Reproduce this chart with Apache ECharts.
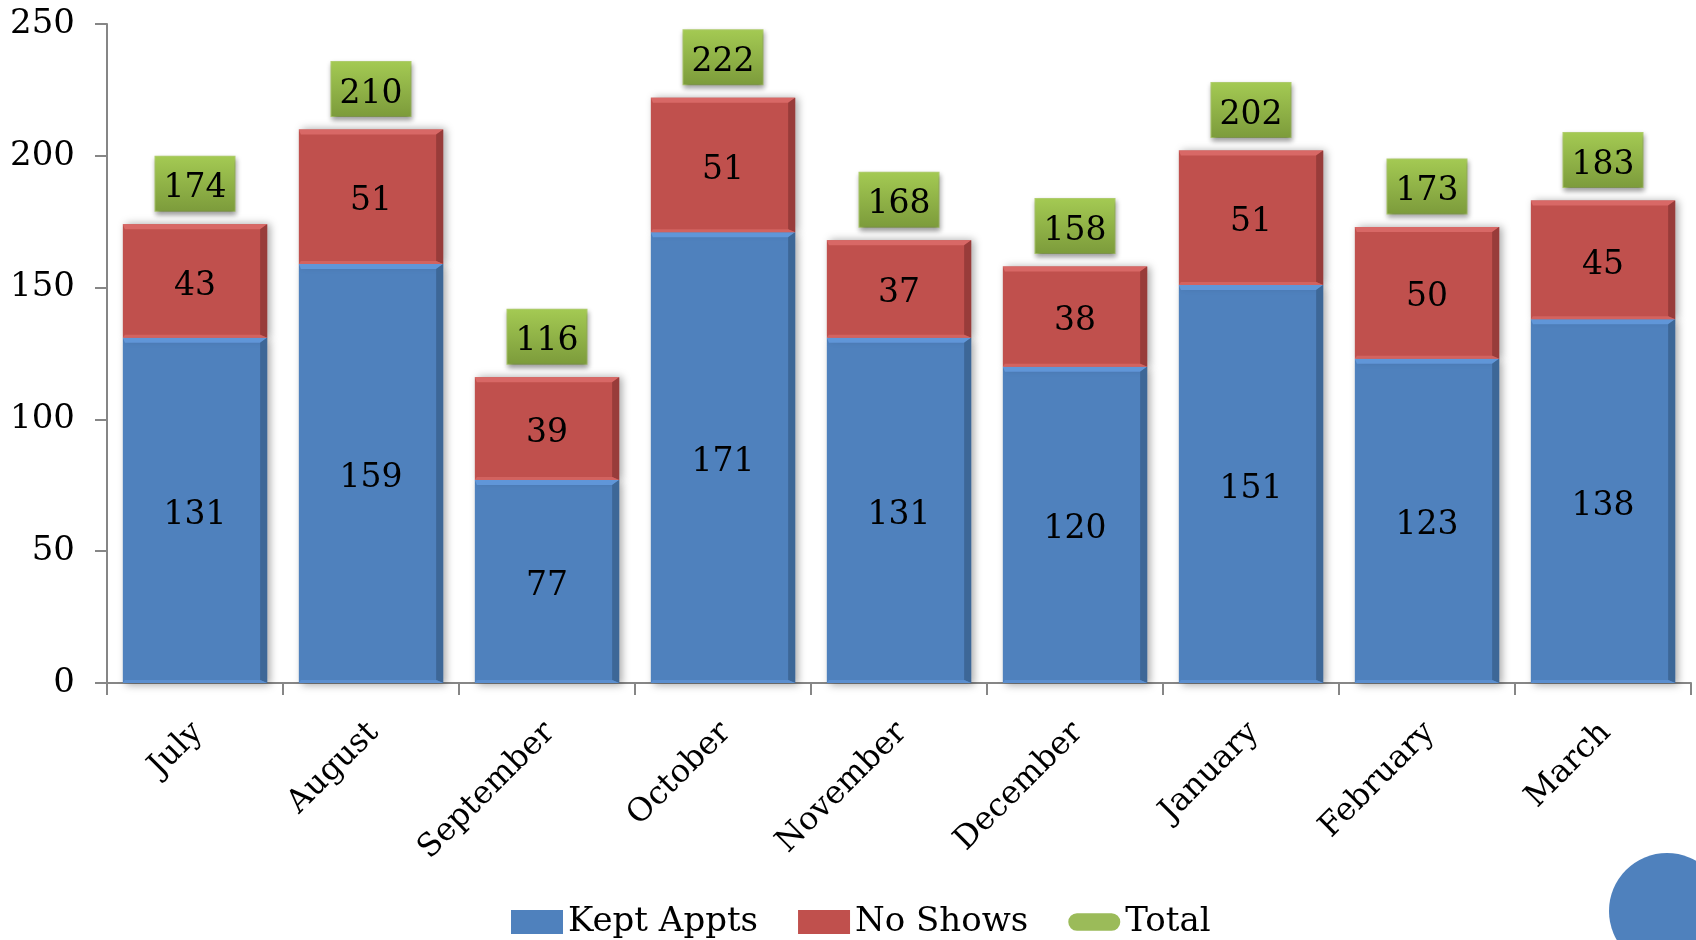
<!DOCTYPE html>
<html>
<head>
<meta charset="utf-8">
<title>Kept Appointments and No Shows</title>
<script src="https://cdn.jsdelivr.net/npm/echarts@6/dist/echarts.min.js"></script>
<style>
  html, body { margin: 0; padding: 0; background: #ffffff; }
  #chart { width: 1696px; height: 940px; }
</style>
</head>
<body>
<div id="chart"></div>
<script>
// Monthly appointment counts
const months = ['July', 'August', 'September', 'October', 'November', 'December', 'January', 'February', 'March'];
const keptAppts = [131, 159, 77, 171, 131, 120, 151, 123, 138];
const noShows = [43, 51, 39, 51, 37, 38, 51, 50, 45];
const totals = [174, 210, 116, 222, 168, 158, 202, 173, 183];

// Value axis range
const yMin = 0;
const yMax = 250;
const yStep = 50;

const FONT = 'DejaVu Serif';
const BLUE = '#4f81bd';
const RED = '#c0504d';
const GREEN = '#9bbb59';
const BAR_RATIO = 0.82;

// Bevel shades per series: [top edge, right edge, bottom edge]
const bevelShades = [
  ['#6096d8', '#3d6797', '#5b8fd0'],
  ['#d86866', '#983c3a', '#d26360']
];

// Segments for the bevel overlay: [category, base, top, seriesIndex]
const bevelData = [];
months.forEach(function (m, i) {
  bevelData.push([i, 0, keptAppts[i], 0]);
  bevelData.push([i, keptAppts[i], keptAppts[i] + noShows[i], 1]);
});

const chart = echarts.init(document.getElementById('chart'), null, { renderer: 'canvas' });

const numberLabel = {
  show: true,
  position: 'inside',
  offset: [0, 5],
  color: '#000000',
  fontFamily: FONT,
  fontSize: 33
};

function renderBevel(params, api) {
  const idx = api.value(0);
  const base = api.value(1);
  const top = api.value(2);
  const shade = bevelShades[api.value(3)];
  const pBase = api.coord([idx, base]);
  const pTop = api.coord([idx, top]);
  const bw = api.size([1, 0])[0] * BAR_RATIO;
  const x0 = pBase[0] - bw / 2;
  const x1 = pBase[0] + bw / 2;
  const yT = pTop[1];
  const yB = pBase[1];
  const d = 5;
  const r = 7;
  const b = 3;
  return {
    type: 'group',
    silent: true,
    children: [
      {
        type: 'polygon',
        shape: { points: [[x0, yT], [x1, yT], [x1 - r, yT + d], [x0 + 2, yT + d]] },
        style: { fill: shade[0] }
      },
      {
        type: 'polygon',
        shape: { points: [[x1, yT], [x1, yB], [x1 - r, yB - b], [x1 - r, yT + d]] },
        style: { fill: shade[1] }
      },
      {
        type: 'polygon',
        shape: { points: [[x0, yB], [x1, yB], [x1 - r, yB - b], [x0 + 2, yB - b]] },
        style: { fill: shade[2] }
      }
    ]
  };
}

const option = {
  backgroundColor: '#ffffff',
  animation: false,
  textStyle: { fontFamily: FONT },
  grid: {
    left: 107,
    right: 5,
    top: 24,
    bottom: 257,
    containLabel: false
  },
  legend: {
    left: 506,
    top: 900,
    itemWidth: 52,
    itemHeight: 24,
    itemGap: 40,
    textStyle: { fontFamily: FONT, fontSize: 34, color: '#000000', padding: [5, 0, 0, 0] },
    data: [
      { name: 'Kept Appts', icon: 'rect', itemStyle: { color: BLUE } },
      { name: 'No Shows', icon: 'rect', itemStyle: { color: RED } },
      {
        name: 'Total',
        icon: 'path://M0,0M64,24M10,1L54,1A10,10,0,0,1,54,23L10,23A10,10,0,0,1,10,1Z',
        itemStyle: { color: GREEN }
      }
    ]
  },
  xAxis: {
    type: 'category',
    data: months,
    boundaryGap: true,
    axisLine: { show: true, lineStyle: { color: '#868686', width: 2 } },
    axisTick: { show: true, interval: 0, length: 12, lineStyle: { color: '#868686', width: 2 } },
    axisLabel: {
      interval: 0,
      rotate: 45,
      align: 'right',
      verticalAlign: 'top',
      margin: 25,
      padding: [0, 12, 0, 0],
      color: '#000000',
      fontFamily: FONT,
      fontSize: 32
    },
    splitLine: { show: false }
  },
  yAxis: {
    type: 'value',
    min: yMin,
    max: yMax,
    interval: yStep,
    axisLine: { show: true, lineStyle: { color: '#868686', width: 2 } },
    axisTick: { show: true, length: 12, lineStyle: { color: '#868686', width: 2 } },
    axisLabel: {
      margin: 32,
      padding: [6, 0, 0, 0],
      color: '#000000',
      fontFamily: FONT,
      fontSize: 34
    },
    splitLine: { show: false }
  },
  series: [
    {
      name: 'Kept Appts',
      type: 'bar',
      stack: 'appts',
      barWidth: (BAR_RATIO * 100) + '%',
      data: keptAppts,
      itemStyle: {
        color: BLUE,
        shadowColor: 'rgba(0, 0, 0, 0.35)',
        shadowBlur: 8,
        shadowOffsetX: 3,
        shadowOffsetY: 2
      },
      label: numberLabel,
      z: 2
    },
    {
      name: 'No Shows',
      type: 'bar',
      stack: 'appts',
      barWidth: (BAR_RATIO * 100) + '%',
      data: noShows,
      itemStyle: {
        color: RED,
        shadowColor: 'rgba(0, 0, 0, 0.35)',
        shadowBlur: 8,
        shadowOffsetX: 3,
        shadowOffsetY: 0
      },
      label: numberLabel,
      z: 2
    },
    {
      name: 'bevel',
      type: 'custom',
      renderItem: renderBevel,
      data: bevelData,
      encode: { x: 0, y: 2 },
      silent: true,
      z: 3
    },
    {
      name: 'Total',
      type: 'line',
      data: totals,
      symbol: 'circle',
      symbolSize: 1,
      color: GREEN,
      itemStyle: { color: 'rgba(0, 0, 0, 0)' },
      lineStyle: { width: 0, opacity: 0 },
      label: {
        show: true,
        position: 'top',
        distance: 13,
        color: '#000000',
        fontFamily: FONT,
        fontSize: 33,
        lineHeight: 34,
        padding: [15, 8, 5, 8],
        backgroundColor: new echarts.graphic.LinearGradient(0, 0, 0, 1, [
          { offset: 0, color: '#a4ca53' },
          { offset: 1, color: '#7c9b3b' }
        ]),
        borderColor: '#b2d06f',
        borderWidth: 1,
        shadowColor: 'rgba(0, 0, 0, 0.4)',
        shadowBlur: 5,
        shadowOffsetX: 1,
        shadowOffsetY: 3
      },
      z: 5
    }
  ],
  graphic: [
    {
      type: 'circle',
      shape: { cx: 1667, cy: 911, r: 58 },
      style: { fill: BLUE },
      silent: true,
      z: 10
    }
  ]
};

chart.setOption(option);
</script>
</body>
</html>
